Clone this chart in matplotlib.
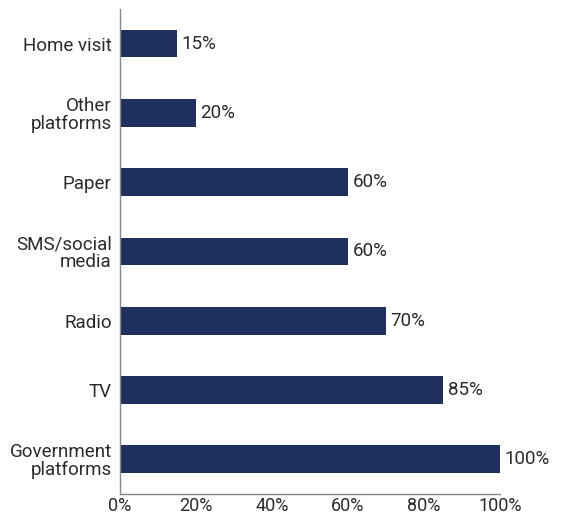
import matplotlib
matplotlib.use("Agg")
import matplotlib.pyplot as plt
from matplotlib.ticker import FuncFormatter

channels = ["Home visit", "Other\nplatforms", "Paper", "SMS/social\nmedia",
            "Radio", "TV", "Government\nplatforms"]
shares = [15, 20, 60, 60, 70, 85, 100]
xticks = [0, 20, 40, 60, 80, 100]

plt.rcParams["font.family"] = ["Roboto", "DejaVu Sans"]
text_col = "#2b2b2b"
bar_col = "#1f305e"

fig = plt.figure(figsize=(5.64, 5.17), dpi=100)
ax = fig.add_axes([0.2128, 0.0445, 0.8865 - 0.2128, 0.9826 - 0.0445])

pos = list(range(len(channels)))
ax.barh(pos, shares, height=0.4, color=bar_col)
for p, v in zip(pos, shares):
    ax.text(v + 1.2, p, f"{v}%", va="center", ha="left",
            fontsize=13.5, color=text_col)

ax.set_ylim(len(channels) - 0.5, -0.5)
ax.set_xlim(0, 100)
ax.set_yticks(pos)
ax.set_yticklabels(channels, fontsize=13.5, color=text_col, linespacing=1.0)
ax.set_xticks(xticks)
ax.xaxis.set_major_formatter(FuncFormatter(lambda v, _: f"{v:.0f}%"))
ax.tick_params(axis="x", length=0, labelsize=13, labelcolor=text_col, pad=2.5)
ax.tick_params(axis="y", length=0, pad=6)

for s in ("top", "right"):
    ax.spines[s].set_visible(False)
for s in ("left", "bottom"):
    ax.spines[s].set_color("#888888")
    ax.spines[s].set_linewidth(1)

fig.savefig("out.png", dpi=100)
